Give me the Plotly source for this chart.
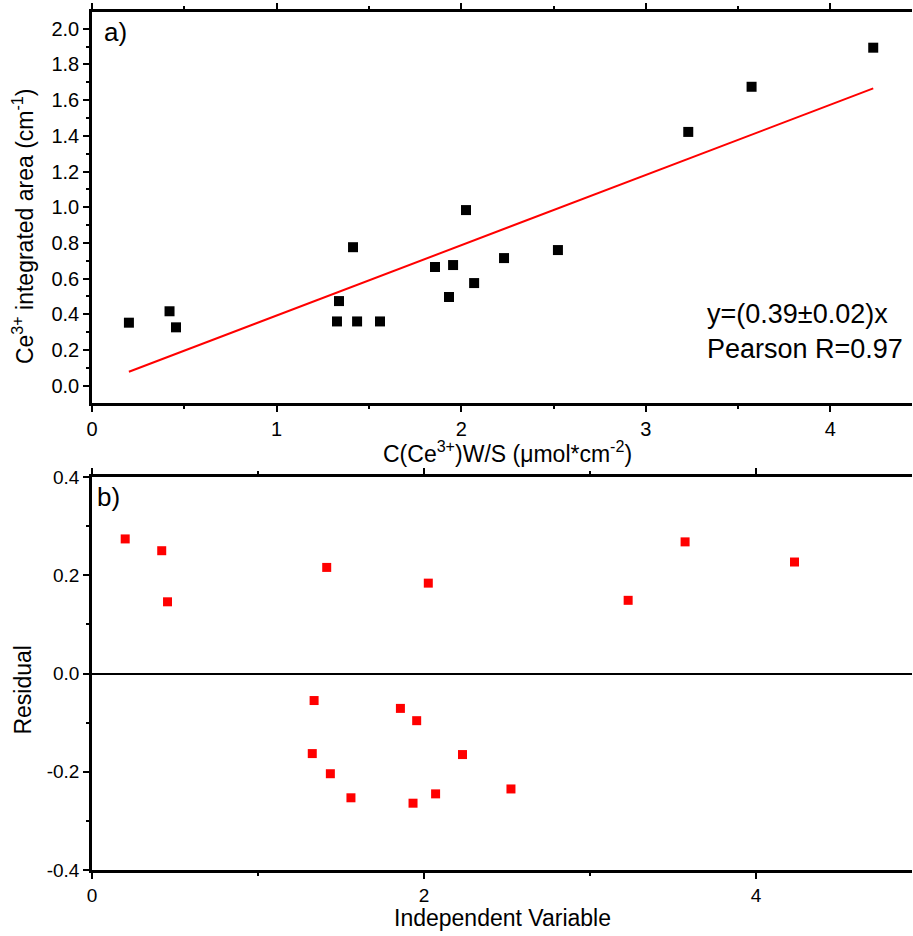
import plotly.graph_objects as go

# ---- data ----
conc = [0.20, 0.42, 0.455, 1.327, 1.338, 1.414, 1.436, 1.56, 1.858, 1.934,
        1.956, 2.026, 2.07, 2.232, 2.524, 3.23, 3.573, 4.232]
area = [0.353, 0.417, 0.327, 0.36, 0.474, 0.776, 0.36, 0.36, 0.665, 0.497,
        0.676, 0.984, 0.575, 0.715, 0.76, 1.422, 1.675, 1.894]
fit_x = [0.20, 4.232]
fit_y = [0.078, 1.666]
residual = [0.274, 0.250, 0.146, -0.163, -0.055, 0.216, -0.204, -0.253, -0.071, -0.264,
            -0.096, 0.184, -0.245, -0.165, -0.235, 0.149, 0.268, 0.227]

top_yticks = [0.0, 0.2, 0.4, 0.6, 0.8, 1.0, 1.2, 1.4, 1.6, 1.8, 2.0]
top_xticks = [0, 1, 2, 3, 4]
bot_yticks = [-0.4, -0.2, 0.0, 0.2, 0.4]
bot_xticks = [0, 2, 4]

FONT = "Liberation Sans, Arial, sans-serif"
TITLE = 23

fig = go.Figure()
fig.add_trace(go.Scatter(x=conc, y=area, mode="markers",
                         marker=dict(symbol="square", size=10, color="black"),
                         xaxis="x", yaxis="y", showlegend=False))
fig.add_trace(go.Scatter(x=fit_x, y=fit_y, mode="lines",
                         line=dict(color="#ff0000", width=2),
                         xaxis="x", yaxis="y", showlegend=False))
fig.add_trace(go.Scatter(x=conc, y=residual, mode="markers",
                         marker=dict(symbol="square", size=9, color="#ff0000"),
                         xaxis="x2", yaxis="y2", showlegend=False))


def ax(size, **kw):
    d = dict(showgrid=False, showline=True, linecolor="black", linewidth=2.5,
             ticks="outside", ticklen=6, tickwidth=2, tickcolor="black",
             tickfont=dict(size=size, color="black", family=FONT), zeroline=False)
    d.update(kw)
    return d


def minor(dt):
    return dict(dtick=dt, tick0=0, ticks="outside", ticklen=3, tickwidth=2, tickcolor="black")


fig.update_layout(
    width=913, height=936,
    margin=dict(l=92, r=1, t=12, b=66),
    paper_bgcolor="white", plot_bgcolor="white",
    font=dict(family=FONT, color="black"),
    xaxis=ax(20, domain=[0, 1], anchor="y", range=[0, 4.442],
             tickvals=top_xticks, ticktext=[str(v) for v in top_xticks],
             mirror="ticks", minor=minor(0.5)),
    yaxis=ax(20, domain=[0.5443, 1], anchor="x", range=[-0.097, 2.094],
             tickvals=top_yticks, ticktext=[f"{v:.1f}" for v in top_yticks],
             minor=minor(0.1)),
    xaxis2=ax(19, domain=[0, 1], anchor="y2", range=[0, 4.94],
              tickvals=bot_xticks, ticktext=[str(v) for v in bot_xticks],
              mirror="ticks", minor=minor(1)),
    yaxis2=ax(19, domain=[0, 0.458], anchor="x2", range=[-0.4, 0.4],
              tickvals=bot_yticks, ticktext=[f"{v:.1f}" for v in bot_yticks],
              zeroline=True, zerolinecolor="black", zerolinewidth=2,
              minor=minor(0.1)),
    annotations=[
        dict(text="a)", x=0.012, y=0.996, xref="paper", yref="paper",
             xanchor="left", yanchor="top", showarrow=False, font=dict(size=26, family=FONT)),
        dict(text="b)", x=0.004, y=0.455, xref="paper", yref="paper",
             xanchor="left", yanchor="top", showarrow=False, font=dict(size=26, family=FONT)),
        dict(text="y=(0.39\u00b10.02)x<br>Pearson R=0.97", x=0.7476, y=0.628,
             xref="paper", yref="paper",
             xanchor="left", yanchor="middle", align="left", showarrow=False,
             font=dict(size=27, family=FONT)),
        # axis titles
        dict(text="C(Ce<sup>3+</sup>)W/S (\u03bcmol*cm<sup>-2</sup>)", x=0.507, y=0.4872,
             xref="paper", yref="paper", xanchor="center", yanchor="middle",
             showarrow=False, font=dict(size=TITLE, family=FONT)),
        dict(text="Ce<sup>3+</sup> integrated area (cm<sup>-1</sup>)", x=-0.084, y=0.7506,
             xref="paper", yref="paper", xanchor="center", yanchor="middle", textangle=-90,
             showarrow=False, font=dict(size=TITLE, family=FONT)),
        dict(text="Independent Variable", x=0.5, y=-0.0559,
             xref="paper", yref="paper", xanchor="center", yanchor="middle",
             showarrow=False, font=dict(size=TITLE, family=FONT)),
        dict(text="Residual", x=-0.084, y=0.2104,
             xref="paper", yref="paper", xanchor="center", yanchor="middle", textangle=-90,
             showarrow=False, font=dict(size=TITLE, family=FONT)),
    ],
)

fig.write_html("out.html")
